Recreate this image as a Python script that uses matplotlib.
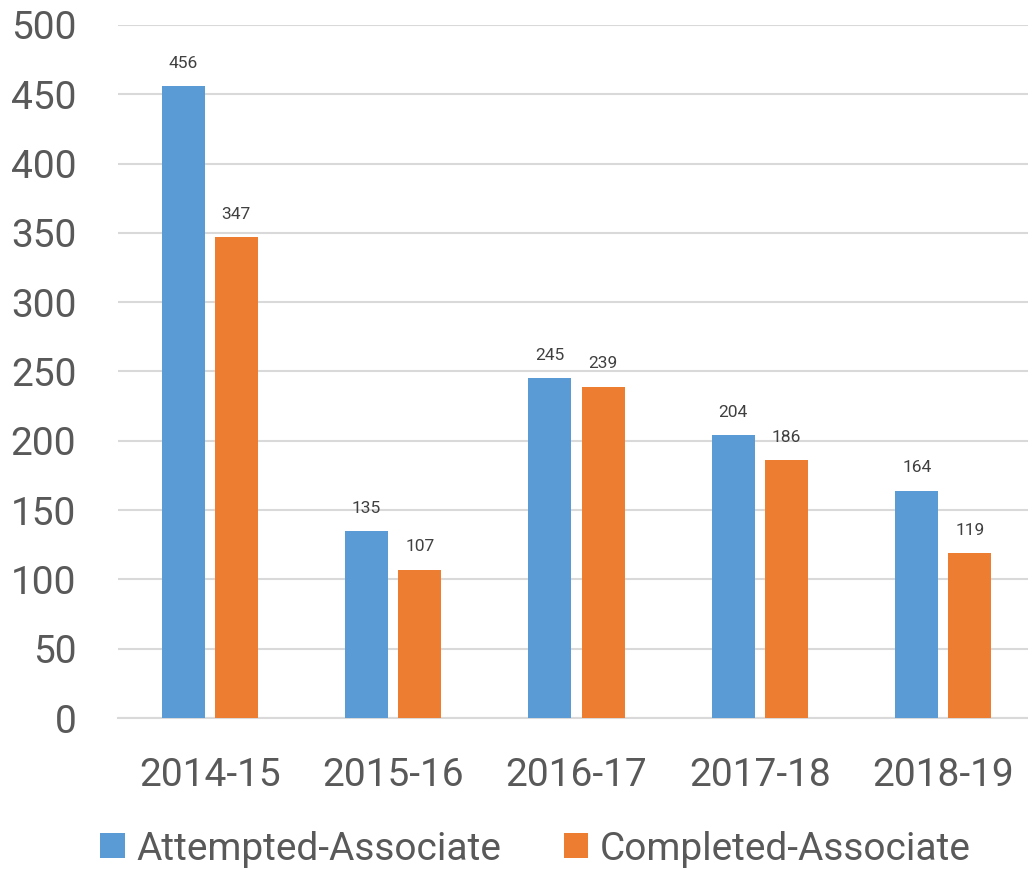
import matplotlib.pyplot as plt
import numpy as np

# bar chart of attempted vs completed associate degrees

years = ['2014-15', '2015-16', '2016-17', '2017-18', '2018-19']
attempted = [456, 135, 245, 204, 164]
completed = [347, 107, 239, 186, 119]
series_names = ['Attempted-Associate', 'Completed-Associate']

blue = '#5B9BD5'
orange = '#ED7D31'
text_grey = '#595959'

plt.rcParams['font.family'] = ['Roboto', 'DejaVu Sans']

fig = plt.figure(figsize=(10.28, 8.71), dpi=100)
ax = fig.add_axes([118 / 1028, (871 - 718) / 871, (1035 - 118) / 1028, (718 - 25) / 871])

x = np.arange(len(years))
w = 0.234
off = 0.145
b1 = ax.bar(x - off, attempted, w, color=blue, label=series_names[0], zorder=3)
b2 = ax.bar(x + off, completed, w, color=orange, label=series_names[1], zorder=3)

# value labels above bars
for bars in (b1, b2):
    for rect in bars:
        h = rect.get_height()
        ax.annotate(str(int(h)), (rect.get_x() + rect.get_width() / 2, h),
                    xytext=(0, 11), textcoords='offset points',
                    ha='center', va='bottom', fontsize=12.5, color='#404040')

ax.set_xlim(-0.5, len(years) - 0.5)
ax.set_ylim(0, 500)
ax.set_yticks(range(0, 501, 50))
ax.set_xticks(x)
ax.set_xticklabels(years)
ax.tick_params(axis='both', length=0, labelsize=28, colors=text_grey)
ax.tick_params(axis='y', pad=30)
ax.tick_params(axis='x', pad=28)

ax.grid(axis='y', color='#D9D9D9', linewidth=1.5, zorder=0)
for s in ['top', 'right', 'left']:
    ax.spines[s].set_visible(False)
ax.spines['bottom'].set_color('#D9D9D9')
ax.spines['bottom'].set_linewidth(1.5)

fig.legend(loc='center', bbox_to_anchor=(0.521, 22 / 871), ncol=2, frameon=False,
           fontsize=28, labelcolor=text_grey, handlelength=0.62, handleheight=0.62,
           handletextpad=0.31, columnspacing=1.6, borderpad=0)

fig.savefig('out.png', dpi=100)
